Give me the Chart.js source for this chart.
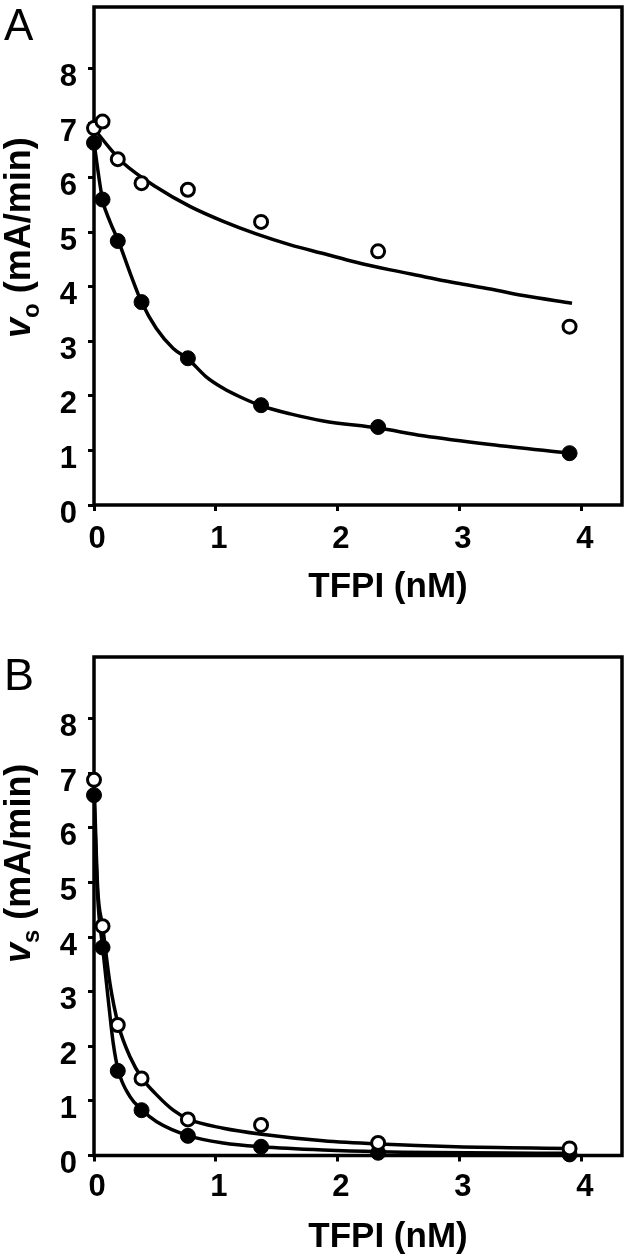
<!DOCTYPE html>
<html>
<head>
<meta charset="utf-8">
<script src="https://cdn.jsdelivr.net/npm/chart.js@4.4.1/dist/chart.umd.min.js"></script>
<style>
  body { margin: 0; background: #fff; }
  canvas { display: block; position: absolute; left: 0; }
  #panelA { top: 0; }
  #panelB { top: 630px; }
</style>
</head>
<body>
<canvas id="panelA" width="625" height="630"></canvas>
<canvas id="panelB" width="625" height="630"></canvas>
<script>
// TFPI concentrations (nM)
const tfpi = [0, 0.07, 0.195, 0.39, 0.77, 1.37, 2.33, 3.9];

// panel A, v_o (mA/min)
const aOpen = [6.91, 7.03, 6.34, 5.90, 5.78, 5.19, 4.65, 3.27];
const aFilled = [6.64, 5.60, 4.84, 3.72, 2.69, 1.83, 1.43, 0.95];
const aOpenFitX = [0, 0.13, 0.24, 0.51, 0.79, 1.06, 1.33, 1.61, 1.88, 2.15, 2.43, 2.70, 2.97, 3.25, 3.52, 3.92];
const aOpenFitY = [6.90, 6.54, 6.27, 5.83, 5.47, 5.20, 4.97, 4.77, 4.61, 4.45, 4.31, 4.19, 4.07, 3.96, 3.84, 3.70];
const aFilledFitX = [0, 0.07, 0.13, 0.2, 0.3, 0.39, 0.51, 0.65, 0.77, 0.92, 1.06, 1.2, 1.37, 1.61, 1.88, 2.33, 2.7, 3.25, 3.9];
const aFilledFitY = [6.64, 5.60, 5.20, 4.84, 4.23, 3.72, 3.24, 2.87, 2.68, 2.35, 2.14, 1.98, 1.82, 1.67, 1.54, 1.41, 1.27, 1.11, 0.95];

// panel B, v_s (mA/min)
const bOpen = [6.88, 4.20, 2.39, 1.41, 0.66, 0.56, 0.23, 0.13];
const bFilled = [6.60, 3.81, 1.55, 0.83, 0.36, 0.16, 0.05, 0.02];
const bOpenFitX = [0, 0.03, 0.071, 0.131, 0.2, 0.295, 0.396, 0.514, 0.65, 0.779, 1.06, 1.375, 1.88, 2.34, 2.97, 3.91];
const bOpenFitY = [6.88, 4.90, 4.20, 3.15, 2.39, 1.81, 1.41, 1.11, 0.83, 0.66, 0.50, 0.39, 0.27, 0.21, 0.16, 0.13];
const bFilledFitX = [0, 0.03, 0.071, 0.117, 0.158, 0.2, 0.295, 0.396, 0.514, 0.779, 1.06, 1.375, 1.88, 2.34, 3.91];
const bFilledFitY = [6.60, 4.75, 3.81, 2.85, 2.05, 1.55, 1.08, 0.83, 0.62, 0.36, 0.23, 0.16, 0.10, 0.07, 0.04];

const xTicks = [0, 1, 2, 3, 4];
const yTicks = [0, 1, 2, 3, 4, 5, 6, 7, 8];

const FONT = '"Liberation Sans", Arial, Helvetica, sans-serif';

const pts = (xs, ys) => xs.map((x, i) => ({x: x, y: ys[i]}));

// box around the plot, panel letter and axis titles
const framePlugin = {
  id: 'frame',
  beforeDatasetsDraw(chart) {
    const {ctx, chartArea: a} = chart;
    ctx.save();
    ctx.lineWidth = 3.5;
    ctx.strokeStyle = '#000';
    ctx.strokeRect(a.left, a.top, a.right - a.left, a.bottom - a.top);
    ctx.restore();
  },
  afterDraw(chart, args, o) {
    const ctx = chart.ctx;
    ctx.save();
    ctx.fillStyle = '#000';
    ctx.textBaseline = 'alphabetic';

    ctx.font = o.letterSize + 'px ' + FONT;
    ctx.textAlign = 'left';
    ctx.fillText(o.letter, 4, o.letterY);

    ctx.font = 'bold 35px ' + FONT;
    ctx.textAlign = 'center';
    ctx.fillText('TFPI (nM)', 388, o.xTitleY);

    ctx.translate(30, o.yTitleStart);
    ctx.rotate(-Math.PI / 2);
    ctx.textAlign = 'left';
    let x = 0;
    ctx.font = 'italic bold 36px ' + FONT;
    ctx.fillText('v', x, 0);
    x += ctx.measureText('v').width;
    ctx.font = 'bold 24px ' + FONT;
    ctx.fillText(o.sub, x, 9);
    x += ctx.measureText(o.sub).width;
    ctx.font = 'bold 36px ' + FONT;
    ctx.fillText(' (mA/min)', x, 0);
    ctx.restore();
  }
};

function makePanel(id, s) {
  const tickFont = {family: FONT, size: 31, weight: 'bold'};
  new Chart(document.getElementById(id), {
    type: 'scatter',
    data: {
      datasets: [
        {data: pts(tfpi, s.open), pointRadius: 6.5, pointBackgroundColor: '#fff',
         pointBorderColor: '#000', pointBorderWidth: 3, showLine: false, clip: false, order: 0},
        {data: pts(tfpi, s.filled), pointRadius: 7.5, pointBackgroundColor: '#000',
         pointBorderColor: '#000', pointBorderWidth: 1, showLine: false, clip: false, order: 0},
        {data: pts(s.openFitX, s.openFitY), showLine: true, pointRadius: 0, borderColor: '#000',
         borderWidth: 3.5, cubicInterpolationMode: 'monotone', order: 1},
        {data: pts(s.filledFitX, s.filledFitY), showLine: true, pointRadius: 0, borderColor: '#000',
         borderWidth: 3.5, cubicInterpolationMode: 'monotone', order: 1}
      ]
    },
    options: {
      responsive: false,
      animation: false,
      events: [],
      devicePixelRatio: 1,
      layout: {autoPadding: false, padding: {top: s.top, left: 0, right: 3, bottom: 0}},
      plugins: {
        legend: {display: false},
        tooltip: {enabled: false},
        frame: s.frame
      },
      scales: {
        x: {
          type: 'linear', min: 0, max: 4.33,
          afterBuildTicks: sc => { sc.ticks = xTicks.map(v => ({value: v})); },
          afterFit: sc => { sc.height = s.xAxisH; sc.paddingLeft = 0; sc.paddingRight = 0; },
          grid: {drawOnChartArea: false, drawTicks: true, tickLength: 6, tickWidth: 3, tickColor: '#000'},
          border: {display: false},
          ticks: {color: '#000', font: tickFont, padding: s.xPad, labelOffset: 3, maxRotation: 0, autoSkip: false}
        },
        y: {
          type: 'linear', min: 0, max: 9.13,
          afterBuildTicks: sc => { sc.ticks = yTicks.map(v => ({value: v})); },
          afterFit: sc => { sc.width = 94; sc.paddingTop = 0; sc.paddingBottom = 0; },
          grid: {drawOnChartArea: false, drawTicks: true, tickLength: 6, tickWidth: 3, tickColor: '#000'},
          border: {display: false},
          ticks: {color: '#000', font: tickFont, padding: 11, labelOffset: 9, autoSkip: false}
        }
      }
    },
    plugins: [framePlugin]
  });
}

makePanel('panelA', {
  open: aOpen, filled: aFilled,
  openFitX: aOpenFitX, openFitY: aOpenFitY,
  filledFitX: aFilledFitX, filledFitY: aFilledFitY,
  top: 7, xAxisH: 125, xPad: 10,
  frame: {letter: 'A', letterSize: 44, letterY: 40, sub: 'o', yTitleStart: 338, xTitleY: 597}
});

makePanel('panelB', {
  open: bOpen, filled: bFilled,
  openFitX: bOpenFitX, openFitY: bOpenFitY,
  filledFitX: bFilledFitX, filledFitY: bFilledFitY,
  top: 27, xAxisH: 104.5, xPad: 7,
  frame: {letter: 'B', letterSize: 45, letterY: 60, sub: 's', yTitleStart: 333, xTitleY: 617}
});
</script>
</body>
</html>
